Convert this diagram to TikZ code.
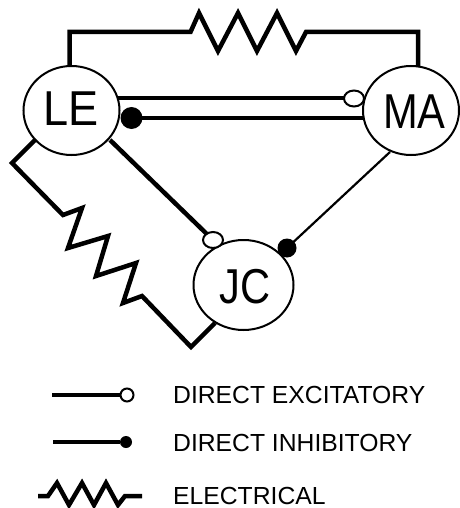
\documentclass[tikz,border=0pt]{standalone}
\usepackage{fontspec}
\setmainfont{Liberation Sans}
\usetikzlibrary{shapes.geometric}
\tikzset{
  cell/.style={draw,ellipse,line width=2pt,minimum width=#1,inner sep=0pt},
  celltext/.style={font=\fontsize{49}{49}\selectfont,inner sep=0pt},
  wire/.style={line width=4.5pt,line join=miter},
  keywire/.style={line width=4.5pt,line join=miter},
  thinwire/.style={line width=2.2pt},
  legtext/.style={font=\fontsize{24.7}{26}\selectfont,anchor=base west,inner sep=0pt},
  openend/.style={draw,fill=white,ellipse,line width=2pt,inner sep=0pt},
  solidend/.style={fill=black,circle,inner sep=0pt}
}
\begin{document}
\begin{tikzpicture}[x=1pt,y=-1pt]
\useasboundingbox (0,0) rectangle (459,508);
\coordinate (t1) at (69.5,66.5);
\coordinate (t2) at (418,66.5);
\draw[wire] (t1) -- (69.5,32) -- (190.5,32) -- (199,13) -- (218,51) -- (238,13) -- (257,51) -- (277,13) -- (296,51) -- (306,32) -- (418,32) -- (t2);
\coordinate (l1) at (35,140);
\coordinate (l2) at (215,323);
\draw[wire] (l1) -- (12,163) -- (63,215) -- (82,208) -- (68,248) -- (108,236) -- (96,276) -- (136,263) -- (123,303) -- (142,296) -- (191,347) -- (l2);
\coordinate (e1) at (116,98);
\coordinate (e2) at (346,98);
\draw[wire] (e1) -- (e2);
\coordinate (i1) at (132,118);
\coordinate (i2) at (366,118);
\draw[wire] (i1) -- (i2);
\coordinate (d1) at (110,140);
\coordinate (d2) at (213,240);
\draw[wire] (d1) -- (d2);
\coordinate (m1) at (390,152);
\coordinate (m2) at (287,248);
\draw[thinwire] (m1) -- (m2);
\node[cell=96pt,minimum height=89pt,fill=white] (LE) at (71.5,110.5) {};
\node[cell=96pt,minimum height=89pt,fill=white] (MA) at (411,110.5) {};
\node[cell=100pt,minimum height=90pt,fill=white] (JC) at (243.5,285) {};
\node[celltext,xscale=.92] (LEt) at (71.5,109) {LE};
\node[celltext,xscale=.85] (MAt) at (414.5,112) {MA};
\node[celltext,xscale=.85] (JCt) at (245,287) {JC};
\node[openend,minimum width=20pt,minimum height=16pt] (s1) at (354,98.5) {};
\node[solidend,minimum size=22pt] (s2) at (131.5,118) {};
\node[openend,minimum width=20pt,minimum height=16pt] (s3) at (213,240) {};
\node[solidend,minimum size=19pt] (s4) at (287,248) {};
\node[openend,minimum width=13pt,minimum height=13pt] (k1) at (127,395) {};
\coordinate (k1s) at (52,395);
\draw[keywire] (k1s) -- (k1);
\node[solidend,minimum size=12pt] (k2) at (126,442) {};
\coordinate (k2s) at (53,442);
\draw[keywire] (k2s) -- (k2);
\coordinate (k3s) at (38,496);
\coordinate (k3e) at (142,496);
\draw[keywire] (k3s) -- (48,496) -- (57,483) -- (69,505) -- (82,483) -- (94,505) -- (106,483) -- (118,505) -- (125,496) -- (k3e);
\node[legtext] (a) at (173,403) {DIRECT EXCITATORY};
\node[legtext] (b) at (173,451) {DIRECT INHIBITORY};
\node[legtext] (c) at (173,504) {ELECTRICAL};
\end{tikzpicture}
\end{document}
